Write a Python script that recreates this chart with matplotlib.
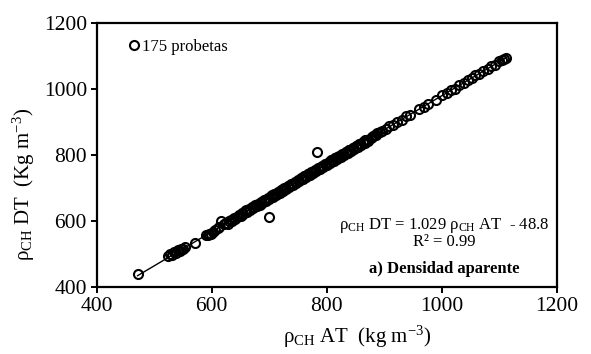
import numpy as np
import matplotlib
matplotlib.use("Agg")
import matplotlib.pyplot as plt

plt.rcParams['font.family'] = ['Liberation Serif', 'DejaVu Serif']
plt.rcParams['mathtext.fontset'] = 'custom'
plt.rcParams['mathtext.rm'] = 'Liberation Serif'
plt.rcParams['mathtext.it'] = 'Liberation Serif:italic'
plt.rcParams['mathtext.bf'] = 'Liberation Serif:bold'

# densidad aparente AT (x) vs DT (y), kg m-3
rho_at = [471, 524, 528, 531, 535, 538, 541, 544, 547, 550, 554, 571,
          590, 593, 596, 599, 602, 606, 610, 613, 616,
          622, 625, 628, 630, 633, 636, 638, 641, 644, 647, 650, 652, 655,
          658, 661, 664, 667, 670, 672, 675, 678, 680, 683, 686, 688, 691,
          694, 697, 699, 700, 703, 706, 709, 712, 715, 718, 720, 723, 726,
          729, 732, 735, 738, 741, 744, 747, 750, 752, 755, 758, 761, 764,
          767, 770, 773, 776, 779, 782, 783, 785, 788, 791, 794, 797, 800,
          803, 806, 809, 812, 815, 818, 821, 824, 827, 830, 833, 836, 839,
          842, 845, 848, 851, 854, 857, 860, 863, 866, 869, 872, 876, 880,
          884, 888, 892, 896,
          660, 690, 705, 724, 742, 756, 768, 778, 790, 798, 808, 818, 826,
          838, 846, 856, 866, 878, 886, 714, 734, 762, 786, 814, 834, 852,
          902, 908, 915, 922, 930, 938, 945, 960, 968, 975, 990, 1000, 1008,
          1015, 1022, 1030, 1038, 1045, 1052, 1058, 1065, 1072, 1080, 1085,
          1092, 1100, 1104, 1108, 1112]
rho_dt = [440, 494, 499, 497, 505, 503, 511, 509, 516, 514, 521, 534,
          559, 557, 562, 560, 567, 572, 578, 581, 600,
          590, 595, 592, 600, 604, 601, 609, 606, 613, 619, 616, 623, 620,
          629, 626, 635, 632, 641, 638, 647, 644, 652, 649, 658, 655, 664,
          661, 670, 611, 667, 676, 673, 682, 679, 688, 685, 694, 691, 700,
          697, 706, 703, 712, 709, 718, 715, 724, 721, 730, 727, 736, 733,
          742, 739, 748, 745, 754, 751, 810, 760, 757, 766, 763, 772, 769,
          779, 776, 785, 782, 791, 788, 797, 794, 803, 800, 809, 806, 815,
          812, 821, 818, 828, 825, 834, 831, 840, 837, 846, 843, 853, 858,
          862, 866, 870, 874,
          632, 661, 680, 697, 713, 730, 742, 753, 765, 772, 784, 794, 800,
          816, 822, 832, 845, 856, 862, 683, 707, 737, 758, 790, 810, 828,
          880, 887, 891, 901, 907, 917, 922, 940, 946, 956, 968, 981, 987,
          997, 1001, 1012, 1018, 1028, 1032, 1041, 1046, 1056, 1061, 1069,
          1074, 1084, 1088, 1092, 1095]

eq_text = "ρ$_{\\mathrm{CH}}$ DT = 1.029 ρ$_{\\mathrm{CH}}$ AT  - 48.8\nR² = 0.99"
panel_text = "a) Densidad aparente"

x = np.array(rho_at)
y = np.array(rho_dt)
b, a = np.polyfit(x, y, 1)
xl = np.array([x.min(), x.max()])

fig = plt.figure(figsize=(5.91, 3.54), dpi=100)
ax = fig.add_axes([0.1636, 0.1893, 0.7789, 0.7457])

ax.plot(xl, b * xl + a, color='black', lw=1.0, zorder=1)
ax.plot(x, y, 'o', ms=6.5, mfc='none', mec='black', mew=1.5,
        label='175 probetas', zorder=2)

ax.set_xlim(400, 1200)
ax.set_ylim(400, 1200)
ax.set_xticks([400, 600, 800, 1000, 1200])
ax.set_yticks([400, 600, 800, 1000, 1200])
ax.tick_params(direction='out', length=4, width=1.4, labelsize=15.5, pad=3)
for s in ax.spines.values():
    s.set_linewidth(1.6)

ax.set_xlabel("ρ$_{\\mathrm{CH}}$ AT  (kg m$^{\\mathrm{-3}}$)", fontsize=15)
ax.set_ylabel("ρ$_{\\mathrm{CH}}$ DT  (Kg m$^{\\mathrm{-3}}$)", fontsize=15)
ax.xaxis.set_label_coords(0.565, -0.14)
ax.yaxis.set_label_coords(-0.13, 0.39)

ax.legend(loc='upper left', frameon=False, fontsize=12, handlelength=0.6,
          handletextpad=0.2, borderaxespad=0.3, bbox_to_anchor=(0.045, 0.985))

ax.text(0.755, 0.205, eq_text, transform=ax.transAxes, ha='center',
        va='center', fontsize=12, linespacing=0.95)
ax.text(0.755, 0.07, panel_text, transform=ax.transAxes, ha='center',
        va='center', fontsize=12, fontweight='bold')

fig.savefig('out.png', dpi=100)
